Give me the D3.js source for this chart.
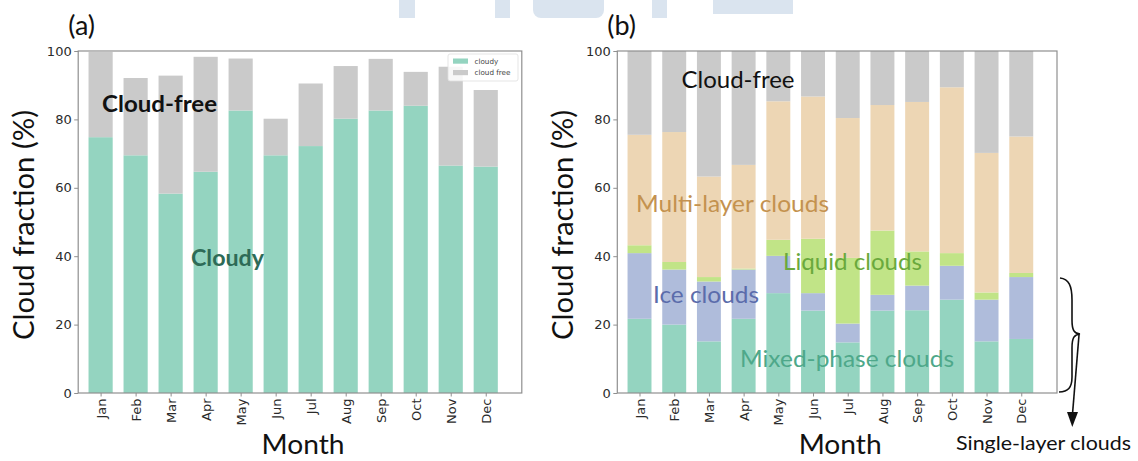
<!DOCTYPE html>
<html>
<head>
<meta charset="utf-8">
<script src="https://cdn.jsdelivr.net/npm/d3@7"></script>
<style>
  html, body { margin: 0; padding: 0; background: #fff; }
  svg { display: block; }
  .tick text { font-family: "DejaVu Sans", sans-serif; fill: #2b2b2b; }
</style>
</head>
<body>
<svg id="chart" width="1138" height="461"></svg>
<script>
// Months on the x axis
const months = ["Jan", "Feb", "Mar", "Apr", "May", "Jun", "Jul", "Aug", "Sep", "Oct", "Nov", "Dec"];
const yTicks = [0, 20, 40, 60, 80, 100];

// (a) cloudy vs. cloud-free fraction (%)
const cloudy    = [74.8, 69.5, 58.3, 64.7, 82.6, 69.5, 72.2, 80.2, 82.6, 84.0, 66.5, 66.2];
const cloudFree = [24.9, 22.6, 34.5, 33.6, 15.2, 10.7, 18.3, 15.4, 15.1,  9.9, 28.9, 22.4];

// (b) cloud types (%), stacked from the bottom
const mixedPhase = [21.7, 20.0, 15.1, 21.7, 29.2, 24.1, 14.8, 24.1, 24.2, 27.3, 15.1, 15.8];
const iceClouds  = [19.2, 16.1, 17.5, 14.4, 10.9,  5.1,  5.5,  4.6,  7.2,  9.9, 12.2, 18.1];
const liquid     = [ 2.3,  2.2,  1.3,  0.3,  4.7, 15.9, 19.2, 18.8, 10.0,  3.7,  2.1,  1.2];
const multiLayer = [32.3, 38.0, 29.4, 30.3, 40.5, 41.6, 40.9, 36.7, 43.7, 48.5, 40.8, 39.9];
const freeB      = [24.5, 23.7, 36.7, 33.3, 14.7, 13.3, 19.6, 15.8, 14.9, 10.6, 29.8, 25.0];

const colors = {
  green: "#94d4c0",
  grey:  "#cacaca",
  tan:   "#edd6b4",
  blue:  "#afbcdb",
  lime:  "#c1e487"
};

const svg = d3.select("#chart");
const annoFont = "Lato, 'Open Sans', sans-serif";

// light decorative blocks along the top edge
const deco = svg.append("g").attr("fill", "#dae4ef");
deco.append("rect").attr("x", 399).attr("y", -5).attr("width", 16).attr("height", 23);
deco.append("rect").attr("x", 495).attr("y", -5).attr("width", 15).attr("height", 23);
deco.append("rect").attr("x", 533).attr("y", -10).attr("width", 71).attr("height", 28).attr("rx", 8);
deco.append("rect").attr("x", 652).attr("y", -5).attr("width", 15).attr("height", 23);
deco.append("rect").attr("x", 713).attr("y", -5).attr("width", 80).attr("height", 19);

const plotTop = 51, plotBottom = 393;
const y = d3.scaleLinear().domain([0, 100]).range([plotBottom, plotTop]);

function panel(left, right, keys, series, fills, letter) {
  const g = svg.append("g");
  const x = d3.scaleLinear().domain([-0.64, 12.03]).range([left, right]);
  const bw = 0.69 * (x(1) - x(0));

  const rows = months.map((m, i) => {
    const r = { month: m, i: i };
    keys.forEach((k, j) => r[k] = series[j][i]);
    return r;
  });
  const stacked = d3.stack().keys(keys)(rows);

  stacked.forEach((layer, j) => {
    g.append("g").attr("fill", fills[j])
      .selectAll("rect").data(layer).join("rect")
      .attr("x", d => x(d.data.i) - bw / 2)
      .attr("width", bw)
      .attr("y", d => y(d[1]))
      .attr("height", d => y(d[0]) - y(d[1]));
  });

  // frame
  g.append("rect")
    .attr("x", left).attr("y", plotTop)
    .attr("width", right - left).attr("height", plotBottom - plotTop)
    .attr("fill", "none").attr("stroke", "#8f8f8f").attr("stroke-width", 1.2);

  const ya = g.append("g").attr("transform", `translate(${left},0)`)
    .call(d3.axisLeft(y).tickValues(yTicks).tickSize(4).tickPadding(2.5));
  ya.select(".domain").remove();
  ya.selectAll(".tick line").attr("stroke", "#8f8f8f");
  ya.selectAll(".tick text").attr("font-size", 13);

  const xa = g.append("g").attr("transform", `translate(0,${plotBottom})`)
    .call(d3.axisBottom(x).tickValues(d3.range(months.length))
      .tickFormat(i => months[i]).tickSize(3.5).tickPadding(2));
  xa.select(".domain").remove();
  xa.selectAll(".tick line").attr("stroke", "#8f8f8f");
  xa.selectAll(".tick text")
    .attr("font-size", 13)
    .attr("transform", "rotate(-90)")
    .attr("text-anchor", "end")
    .attr("x", -5.5).attr("y", 0).attr("dy", "0.35em");

  // axis titles
  g.append("text")
    .attr("transform", `translate(${left - 44.5},${225}) rotate(-90)`)
    .attr("text-anchor", "middle")
    .attr("font-family", annoFont).attr("font-size", 28)
    .attr("textLength", 230).attr("lengthAdjust", "spacingAndGlyphs")
    .attr("fill", "#111")
    .text("Cloud fraction (%)");
  g.append("text")
    .attr("x", (left + right) / 2 + 3).attr("y", 454)
    .attr("text-anchor", "middle")
    .attr("font-family", annoFont).attr("font-size", 26)
    .attr("textLength", 83).attr("lengthAdjust", "spacingAndGlyphs")
    .attr("fill", "#111")
    .text("Month");

  // panel letter
  g.append("text")
    .attr("x", left - 10).attr("y", 35)
    .attr("font-family", annoFont).attr("font-size", 27)
    .attr("fill", "#111")
    .text(letter);
  return g;
}

// (a)
const ga = panel(78.2, 521.8, ["cloudy", "cloudFree"], [cloudy, cloudFree], [colors.green, colors.grey], "(a)");

// legend in (a)
const leg = ga.append("g");
leg.append("rect").attr("x", 448).attr("y", 54).attr("width", 70).attr("height", 27).attr("rx", 2)
  .attr("fill", "#fff").attr("fill-opacity", 0.85).attr("stroke", "#dedede").attr("stroke-width", 0.8);
[["cloudy", colors.green], ["cloud free", colors.grey]].forEach((e, k) => {
  leg.append("rect").attr("x", 453).attr("y", 58.5 + k * 11.5).attr("width", 15).attr("height", 5.2).attr("fill", e[1]);
  leg.append("text").attr("x", 474.5).attr("y", 63.8 + k * 11.5)
    .attr("font-family", "'DejaVu Sans', sans-serif").attr("font-size", 7.2).attr("fill", "#444")
    .text(e[0]);
});

ga.append("text").attr("x", 102).attr("y", 112)
  .attr("font-family", annoFont).attr("font-weight", 700).attr("font-size", 22)
  .attr("textLength", 115).attr("lengthAdjust", "spacingAndGlyphs")
  .attr("fill", "#111").text("Cloud-free");
ga.append("text").attr("x", 191).attr("y", 266)
  .attr("font-family", annoFont).attr("font-weight", 700).attr("font-size", 22)
  .attr("textLength", 73).attr("lengthAdjust", "spacingAndGlyphs")
  .attr("fill", "#2e6b57").text("Cloudy");

// (b)
const gb = panel(617.3, 1057, ["mixed", "ice", "liquid", "multi", "free"],
  [mixedPhase, iceClouds, liquid, multiLayer, freeB],
  [colors.green, colors.blue, colors.lime, colors.tan, colors.grey], "(b)");

const labelsB = [
  ["Cloud-free", 681.5, 88, 113, "#111"],
  ["Multi-layer clouds", 636, 212, 193, "#c4924f"],
  ["Liquid clouds", 783, 270, 139, "#6aa93c"],
  ["Ice clouds", 653, 303, 106, "#5b6cab"],
  ["Mixed-phase clouds", 740, 367, 214, "#4ea88a"]
];
labelsB.forEach(l => {
  gb.append("text").attr("x", l[1]).attr("y", l[2])
    .attr("font-family", annoFont).attr("font-size", 23)
    .attr("textLength", l[3]).attr("lengthAdjust", "spacingAndGlyphs")
    .attr("fill", l[4]).text(l[0]);
});

// brace grouping the single-layer stacks, with arrow and caption
const note = svg.append("g");
note.append("path")
  .attr("d", "M1060,278 C1069,279 1072,286 1072,300 L1072,320 C1072,330 1074,333.5 1080,334 C1074,334.5 1072,338 1072,348 L1072,377 C1072,388 1068,391.5 1059,392")
  .attr("fill", "none").attr("stroke", "#111").attr("stroke-width", 1.6);
note.append("line").attr("x1", 1079).attr("y1", 335).attr("x2", 1072.5).attr("y2", 414)
  .attr("stroke", "#111").attr("stroke-width", 1.6);
note.append("path").attr("d", "M1067,412 L1078,412 L1072.3,427 Z").attr("fill", "#111");
note.append("text").attr("x", 956).attr("y", 450)
  .attr("font-family", annoFont).attr("font-size", 19)
  .attr("textLength", 175).attr("lengthAdjust", "spacingAndGlyphs")
  .attr("fill", "#111").text("Single-layer clouds");
</script>
</body>
</html>
